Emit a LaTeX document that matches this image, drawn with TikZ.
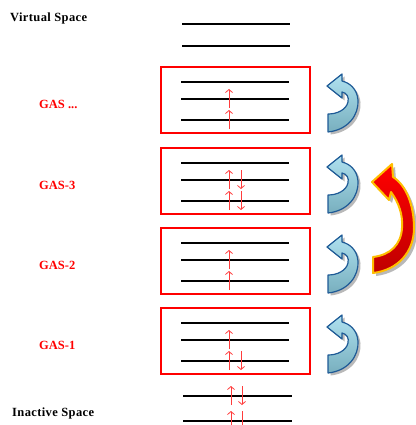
\documentclass[tikz,border=0pt]{standalone}
\usepackage{fontspec}
\setmainfont{Liberation Serif}
\usetikzlibrary{arrows.meta}
\definecolor{elec}{RGB}{255,60,60}
\definecolor{bluefill}{RGB}{175,225,240}
\definecolor{bluedark}{RGB}{120,175,190}
\definecolor{blueline}{RGB}{30,90,150}
\definecolor{gold}{RGB}{255,190,0}
\newcommand\elup[2]{\draw[el] ({#1},{#2+9}) -- ({#1},{#2-10});}
\newcommand\eldn[2]{\draw[el] ({#1},{#2-10}) -- ({#1},{#2+9});}
\tikzset{
  lvl/.style={line width=1.5pt,black},
  gasbox/.style={draw=red,line width=1.6pt},
  el/.style={elec,line width=0.8pt,-{Straight Barb[length=3pt,width=7pt]}},
  lab/.style={font=\fontsize{12.5}{14}\selectfont\bfseries,inner sep=0pt,anchor=base west},
  blab/.style={lab,font=\fontsize{12.5}{15}\selectfont\bfseries\addfontfeature{LetterSpace=3}},
  bluearr/.pic={
    \path[fill=gray!55,shift={(2.5,2.5)}]
      (-12,32) .. controls (8,30) and (19,15) .. (18,0) .. controls (17,-11) and (10,-17) .. (2,-19)
      -- (2,-26) -- (-13,-14) -- (2,-2) -- (2,-8) .. controls (7,-7) and (9,-3) .. (8,2)
      .. controls (6,10) and (-3,14) .. (-12,14) -- cycle;
    \path[top color=bluefill,bottom color=bluedark,draw=blueline,line width=1.2pt,line join=round]
      (-12,32) .. controls (8,30) and (19,15) .. (18,0) .. controls (17,-11) and (10,-17) .. (2,-19)
      -- (2,-26) -- (-13,-14) -- (2,-2) -- (2,-8) .. controls (7,-7) and (9,-3) .. (8,2)
      .. controls (6,10) and (-3,14) .. (-12,14) -- cycle;
  }
}
\begin{document}
\begin{tikzpicture}[x=1pt,y=-1pt]
\useasboundingbox (0,0) rectangle (415,425);
% labels
\node[blab] (vs) at (10,22) {Virtual Space};
\node[blab] (is) at (12,416) {Inactive Space};
\node[lab,red] (g4) at (39,109) {GAS ...};
\node[lab,red] (g3) at (39,189) {GAS-3};
\node[lab,red] (g2) at (39,269) {GAS-2};
\node[lab,red] (g1) at (39,349) {GAS-1};
% virtual space
\draw[lvl] (182,24) -- (290,24);
\draw[lvl] (182,46) -- (290,46);
% boxes
\foreach \t in {67,148,228,308}{
  \draw[gasbox] (161,\t) rectangle (310,{\t+66});
  \draw[lvl] (181,{\t+15}) -- (289,{\t+15});
  \draw[lvl] (181,{\t+32}) -- (289,{\t+32});
  \draw[lvl] (181,{\t+53}) -- (289,{\t+53});
  \pic at (340,{\t+33}) {bluearr};
}
% electrons
\elup{229}{99}\elup{229}{120}
\elup{229}{180}\eldn{241}{180}\elup{229}{201}\eldn{241}{201}
\elup{229}{260}\elup{229}{281}
\elup{229}{340}\elup{229}{361}\eldn{241}{361}
% inactive
\draw[lvl] (183,396) -- (292,396);
\draw[lvl] (183,421) -- (292,421);
\elup{231}{396}\eldn{242}{396}
\elup{231}{421}\eldn{242}{421}
% red arrow
\path[fill=gray!55,shift={(3,3)}]
  (373,273) .. controls (398,270) and (414,252) .. (414,228) .. controls (414,205) and (406,185) .. (393,177)
  -- (392,164) -- (372,182) -- (389,200) -- (391,192) .. controls (399,203) and (403,215) .. (402,228)
  .. controls (401,245) and (390,255) .. (373,257) -- cycle;
\path[top color=red,bottom color=red!75!black,draw=gold,line width=2pt,line join=round]
  (373,273) .. controls (398,270) and (414,252) .. (414,228) .. controls (414,205) and (406,185) .. (393,177)
  -- (392,164) -- (372,182) -- (389,200) -- (391,192) .. controls (399,203) and (403,215) .. (402,228)
  .. controls (401,245) and (390,255) .. (373,257) -- cycle;
\end{tikzpicture}
\end{document}
